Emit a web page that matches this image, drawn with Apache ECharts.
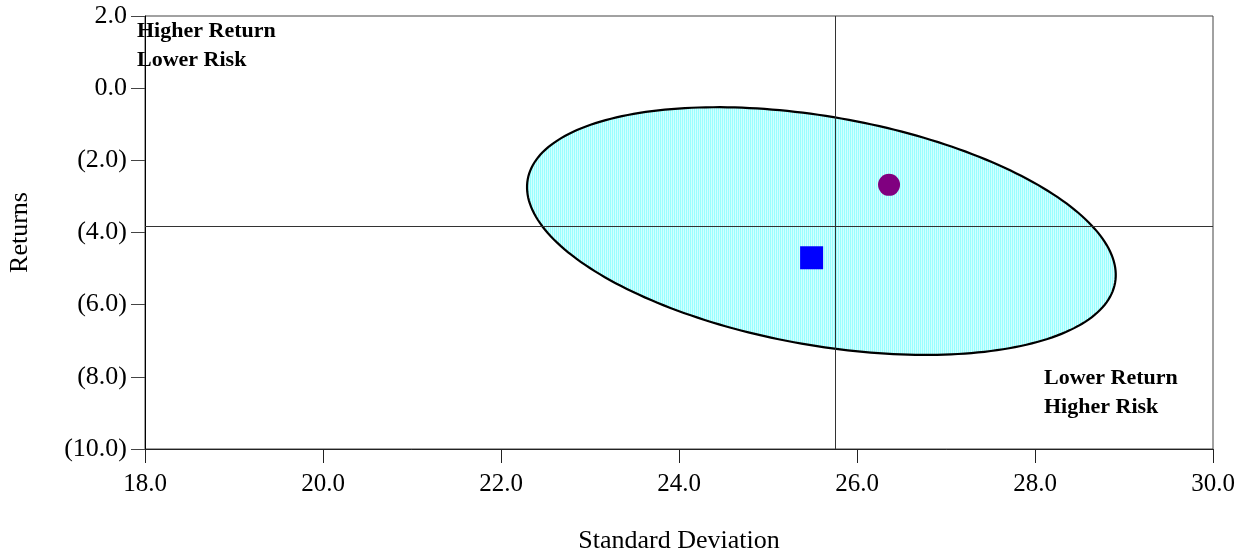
<!DOCTYPE html>
<html>
<head>
<meta charset="utf-8">
<script src="https://cdn.jsdelivr.net/npm/echarts@6/dist/echarts.min.js"></script>
<style>
html,body{margin:0;padding:0;background:#fff;}
#chart{width:1250px;height:552px;}
</style>
</head>
<body>
<div id="chart"></div>
<script>
// ---- data ----
var xTicks = [18, 20, 22, 24, 26, 28, 30];
var yTicks = [2, 0, -2, -4, -6, -8, -10];
var circlePoint = [[26.36, -2.68]];   // purple circle
var squarePoint = [[25.49, -4.70]];   // blue square
var crossX = [25.75];                 // vertical reference line
var crossY = [-3.83];                 // horizontal reference line
var ellipseCenter = [25.60, -3.96];
var ellipseAxisU = [3.30, -1.43];     // conjugate semi-axis (data units)
var ellipseAxisV = [-0.223, -3.12];   // conjugate semi-axis (data units)
var quadrantTexts = ['Higher Return\nLower Risk', 'Lower Return\nHigher Risk'];

var FONT = '"Liberation Serif","Times New Roman",serif';

function makePattern() {
  var c = document.createElement('canvas');
  c.width = 2; c.height = 4;
  var g = c.getContext('2d');
  g.fillStyle = '#99ffff'; g.fillRect(0, 0, 1, 4);
  g.fillStyle = '#d2ffff'; g.fillRect(1, 0, 1, 4);
  return c;
}
var pattern = makePattern();

function fmtY(v) {
  if (v < 0) return '(' + (-v).toFixed(1) + ')';
  return v.toFixed(1);
}

var chart = echarts.init(document.getElementById('chart'), null, {renderer: 'canvas'});

var option = {
  backgroundColor: '#ffffff',
  animation: false,
  grid: {left: 145, right: 37, top: 16, bottom: 103, containLabel: false, outerBoundsMode: 'none',
         show: true, borderColor: '#444', borderWidth: 1, backgroundColor: 'transparent'},
  xAxis: {
    type: 'value', min: xTicks[0], max: xTicks[xTicks.length - 1], interval: 2,
    name: 'Standard Deviation', nameLocation: 'middle', nameGap: 79,
    nameTextStyle: {fontFamily: FONT, fontSize: 26, color: '#000'},
    axisLine: {show: true, onZero: false, lineStyle: {color: '#222', width: 1}},
    axisTick: {show: true, length: 14, lineStyle: {color: '#222'}},
    axisLabel: {fontFamily: FONT, fontSize: 25, color: '#000', margin: 23, formatter: function (v) { return v.toFixed(1); }},
    splitLine: {show: false}
  },
  yAxis: {
    type: 'value', min: yTicks[yTicks.length - 1], max: yTicks[0], interval: 2,
    name: 'Returns', nameLocation: 'middle', nameGap: 112, nameRotate: 90,
    nameTextStyle: {fontFamily: FONT, fontSize: 26, color: '#000'},
    axisLine: {show: true, onZero: false, lineStyle: {color: '#000', width: 1}},
    axisTick: {show: true, length: 14, lineStyle: {color: '#444'}},
    axisLabel: {fontFamily: FONT, fontSize: 26, color: '#000', margin: 18, formatter: fmtY},
    splitLine: {show: false}
  },
  graphic: [
    {type: 'text', left: 137, top: 17, z: 100,
     style: {text: quadrantTexts[0], font: 'bold 22px ' + FONT, lineHeight: 29, fill: '#000'}},
    {type: 'text', left: 1044, top: 364, z: 100,
     style: {text: quadrantTexts[1], font: 'bold 22px ' + FONT, lineHeight: 29, fill: '#000'}}
  ],
  series: [
    {
      type: 'custom', z: 1, silent: true,
      data: [[ellipseCenter[0], ellipseCenter[1]]],
      renderItem: function (params, api) {
        var pts = [];
        var N = 240;
        for (var i = 0; i < N; i++) {
          var t = 2 * Math.PI * i / N;
          var dx = ellipseCenter[0] + ellipseAxisU[0] * Math.cos(t) + ellipseAxisV[0] * Math.sin(t);
          var dy = ellipseCenter[1] + ellipseAxisU[1] * Math.cos(t) + ellipseAxisV[1] * Math.sin(t);
          pts.push(api.coord([dx, dy]));
        }
        return {
          type: 'polygon',
          shape: {points: pts},
          style: {fill: {image: pattern, repeat: 'repeat'}, stroke: '#000', lineWidth: 2.2}
        };
      }
    },
    {
      type: 'line', z: 2, data: [], silent: true,
      markLine: {
        silent: true, symbol: ['none', 'none'], animation: false,
        label: {show: false},
        lineStyle: {color: '#333', width: 1, type: 'solid'},
        data: [{xAxis: crossX[0]}, {yAxis: crossY[0]}]
      }
    },
    {
      type: 'scatter', z: 3, silent: true, symbol: 'circle', symbolSize: 22,
      itemStyle: {color: '#800080', opacity: 1},
      data: circlePoint
    },
    {
      type: 'scatter', z: 3, silent: true, symbol: 'rect', symbolSize: 23,
      itemStyle: {color: '#0000ff', opacity: 1},
      data: squarePoint
    }
  ]
};
chart.setOption(option);
</script>
</body>
</html>
